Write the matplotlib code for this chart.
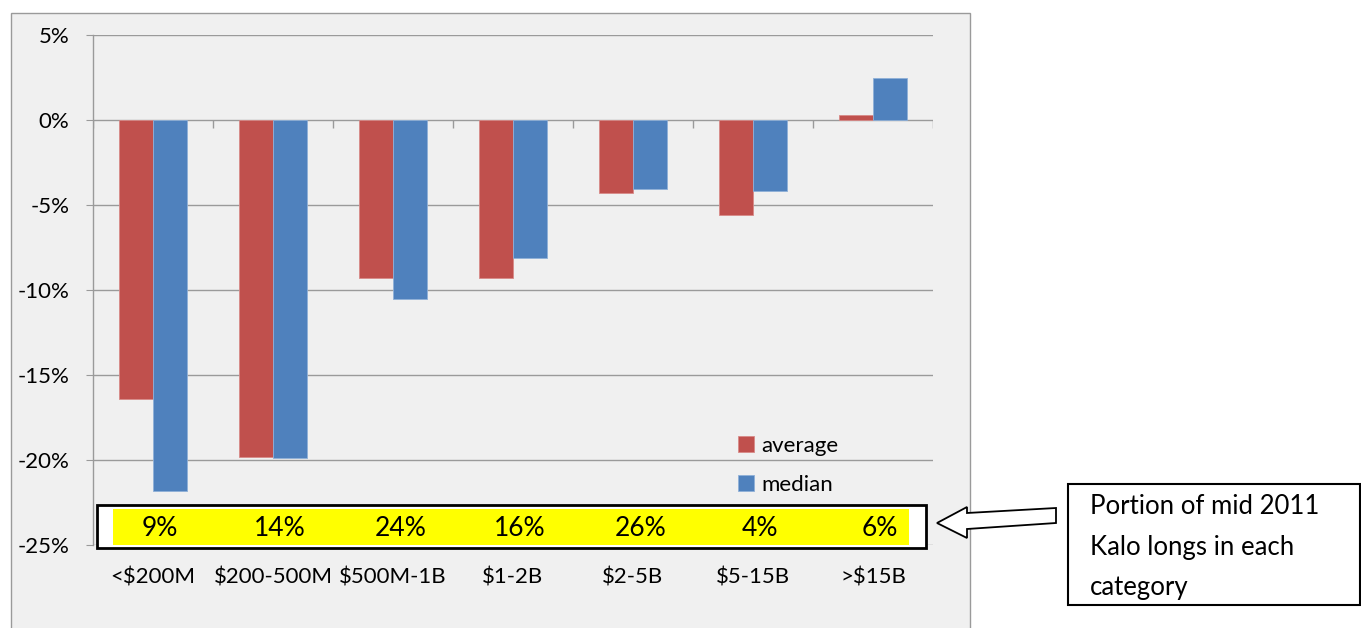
import matplotlib
matplotlib.use("Agg")
import matplotlib.pyplot as plt
import matplotlib.transforms as mtransforms
from matplotlib.patches import Rectangle, Polygon
import numpy as np

plt.rcParams['font.family'] = ['Lato', 'DejaVu Sans']

categories = ["<$200M", "$200-500M", "$500M-1B", "$1-2B", "$2-5B", "$5-15B", ">$15B"]
average = [-16.4, -19.8, -9.3, -9.3, -4.3, -5.6, 0.3]
median = [-21.8, -19.9, -10.5, -8.1, -4.05, -4.2, 2.5]
portion = ["9%", "14%", "24%", "16%", "26%", "4%", "6%"]
yticks = [5, 0, -5, -10, -15, -20, -25]
note_lines = ["Portion of mid 2011", "Kalo longs in each", "category"]

W, H = 1361, 628
fig = plt.figure(figsize=(W / 100, H / 100), dpi=100)
fig.patch.set_facecolor("white")

def fx(px):
    return px / W

def fy(py):
    return 1 - py / H

# chart panel
fig.patches.append(Rectangle((fx(11), fy(640)), fx(970) - fx(11), fy(13) - fy(640),
                             transform=fig.transFigure, facecolor="#F0F0F0",
                             edgecolor="#9A9A9A", linewidth=1.0, zorder=-5))

ax = fig.add_axes([fx(93), fy(545), fx(933) - fx(93), fy(35) - fy(545)])
ax.set_facecolor("none")
ax.set_xlim(-0.5, len(categories) - 0.5)
ax.set_ylim(-25, 5)

grid_c = "#9A9A9A"
for t in yticks:
    ax.axhline(t, color=grid_c, lw=1.0, zorder=1)

x = np.arange(len(categories))
bw = 34 / 120
ax.bar(x - bw / 2, average, width=bw, color="#C0504D", edgecolor="#D88A88",
       linewidth=0.6, label="average", zorder=3)
ax.bar(x + bw / 2, median, width=bw, color="#4F81BD", edgecolor="#8FB0D8",
       linewidth=0.6, label="median", zorder=3)

for s in ["top", "right", "bottom"]:
    ax.spines[s].set_visible(False)
ax.spines["left"].set_color(grid_c)
ax.spines["left"].set_linewidth(1.0)
ax.set_yticks(yticks)
ax.set_yticklabels([f"{t}%" for t in yticks], fontsize=16)
ax.tick_params(axis="y", length=5, color=grid_c, pad=12)

# category boundary ticks on zero line
ax.set_xticks([])
ax.vlines(np.arange(len(categories) + 1) - 0.5, -8 * 30 / 510, 0, color=grid_c, lw=1.0, zorder=2)

trans = mtransforms.blended_transform_factory(ax.transData, fig.transFigure)
for i, c in enumerate(categories):
    ax.text(i, fy(578), c, transform=trans, ha="center", va="center", fontsize=16, clip_on=False)

leg = ax.legend(frameon=False, loc="upper left", bbox_to_anchor=(fx(718), fy(416)),
                bbox_transform=fig.transFigure, fontsize=16, handlelength=0.7,
                handleheight=0.7, handletextpad=0.35, labelspacing=0.85)

# yellow portion box
ax.add_patch(Rectangle((fx(97), fy(548)), fx(926) - fx(97), fy(505) - fy(548),
                       transform=fig.transFigure, facecolor="white",
                       edgecolor="black", linewidth=2.0, zorder=5, clip_on=False))
ax.add_patch(Rectangle((fx(113), fy(545)), fx(909) - fx(113), fy(509) - fy(545),
                       transform=fig.transFigure, facecolor="#FFFF00",
                       edgecolor="none", zorder=6, clip_on=False))
for i, p in enumerate(portion):
    ax.text(i + 0.06, fy(528), p, transform=trans, ha="center", va="center",
            fontsize=19, zorder=7, clip_on=False)

# arrow
arrow_px = [(937, 523), (967, 507), (967, 513), (1056, 508), (1056, 523), (967, 529), (967, 538)]
ax.add_patch(Polygon([(fx(a), fy(b)) for a, b in arrow_px], closed=True,
                     transform=fig.transFigure, facecolor="white",
                     edgecolor="black", linewidth=1.3, zorder=8, clip_on=False))

# note box
ax.add_patch(Rectangle((fx(1068), fy(605)), fx(1360) - fx(1068), fy(484) - fy(605),
                       transform=fig.transFigure, facecolor="white",
                       edgecolor="black", linewidth=1.5, zorder=8, clip_on=False))
for j, line in enumerate(note_lines):
    fig.text(fx(1090), fy(506 + 41 * j), line, ha="left", va="center", fontsize=18.5, zorder=9)

fig.savefig("out.png", dpi=100)
